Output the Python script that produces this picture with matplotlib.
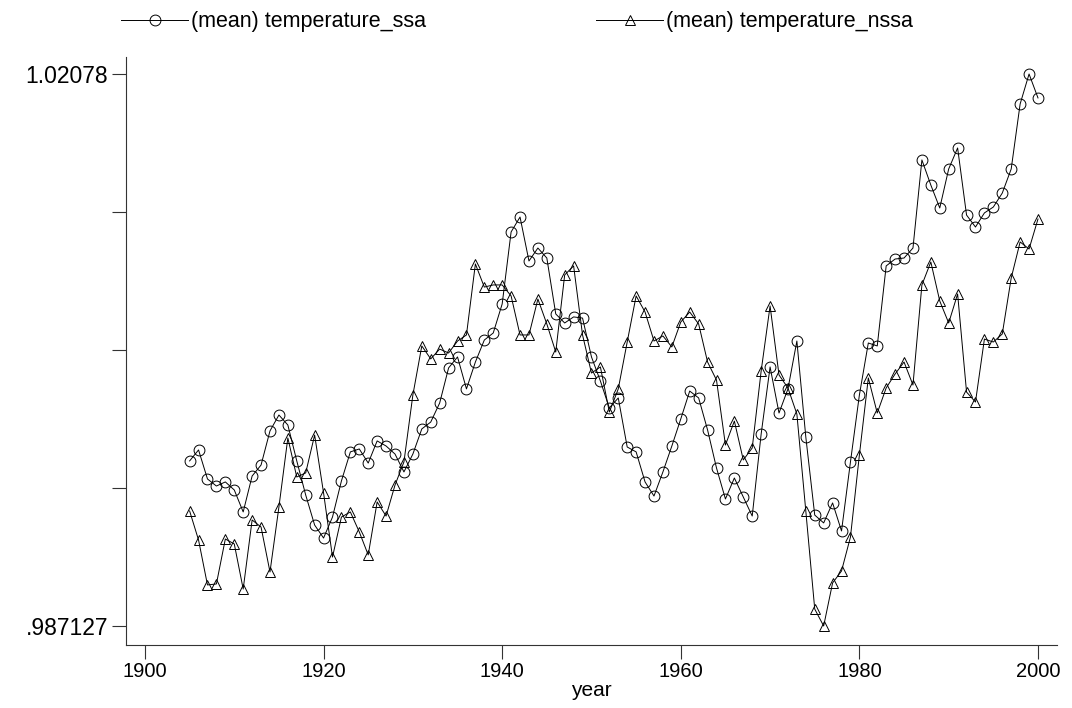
#!/usr/bin/env python3
"""
Mean temperature by year, ssa vs nssa, drawn in a Stata-like mono style.
"""

import matplotlib
matplotlib.use("Agg")
import matplotlib.pyplot as plt

# Data (1905-2000)
YEARS = list(range(1905, 2001))

TEMP_SSA = [
    0.99719, 0.99786, 0.99609, 0.99566, 0.99591, 0.99542, 0.99408, 0.99627, 0.99694, 0.99902,
    0.99999, 0.99938, 0.99719, 0.99511, 0.99328, 0.99249, 0.99377, 0.99597, 0.99774, 0.99792,
    0.99706, 0.99841, 0.99810, 0.99761, 0.99652, 0.99761, 0.99914, 0.99956, 1.00072, 1.00286,
    1.00353, 1.00158, 1.00322, 1.00456, 1.00499, 1.00676, 1.01115, 1.01206, 1.00938, 1.01017,
    1.00956, 1.00615, 1.00560, 1.00597, 1.00590, 1.00353, 1.00206, 1.00042, 1.00103, 0.99804,
    0.99774, 0.99591, 0.99505, 0.99652, 0.99810, 0.99975, 1.00145, 1.00103, 0.99908, 0.99676,
    0.99487, 0.99615, 0.99499, 0.99383, 0.99883, 1.00292, 1.00011, 1.00158, 1.00450, 0.99865,
    0.99389, 0.99341, 0.99463, 0.99292, 0.99713, 1.00121, 1.00438, 1.00420, 1.00908, 1.00950,
    1.00956, 1.01017, 1.01554, 1.01401, 1.01261, 1.01499, 1.01627, 1.01218, 1.01145, 1.01231,
    1.01267, 1.01352, 1.01499, 1.01895, 1.02078, 1.01932,
]

TEMP_NSSA = [
    0.99414, 0.99237, 0.98963, 0.98969, 0.99243, 0.99213, 0.98938, 0.99359, 0.99316, 0.99042,
    0.99438, 0.99859, 0.99621, 0.99646, 0.99877, 0.99524, 0.99133, 0.99377, 0.99408, 0.99286,
    0.99146, 0.99469, 0.99383, 0.99572, 0.99713, 1.00121, 1.00420, 1.00341, 1.00401, 1.00377,
    1.00450, 1.00487, 1.00920, 1.00779, 1.00792, 1.00792, 1.00725, 1.00487, 1.00487, 1.00706,
    1.00554, 1.00383, 1.00853, 1.00908, 1.00487, 1.00255, 1.00292, 1.00017, 1.00158, 1.00444,
    1.00725, 1.00627, 1.00450, 1.00481, 1.00414, 1.00566, 1.00627, 1.00554, 1.00322, 1.00212,
    0.99816, 0.99962, 0.99725, 0.99798, 1.00267, 1.00664, 1.00243, 1.00164, 1.00005, 0.99414,
    0.98816, 0.987127, 0.98975, 0.99048, 0.99255, 0.99755, 1.00225, 1.00011, 1.00164, 1.00249,
    1.00322, 1.00182, 1.00792, 1.00932, 1.00694, 1.00560, 1.00737, 1.00139, 1.00078, 1.00462,
    1.00444, 1.00493, 1.00834, 1.01054, 1.01011, 1.01194,
]

Y_MIN = 0.987127
Y_MAX = 1.02078
X_TICKS = [1900, 1920, 1940, 1960, 1980, 2000]

# Appearance
XTICK_SIZE = 14.5
YTICK_SIZE = 16.5
LEGEND_SIZE = 15.5
LABEL_SIZE = 15
LINE_WIDTH = 0.7
MARKER_SIZE = 7.8
MARKER_EDGE = 0.7


def main():
    plt.rcParams["font.family"] = ["Liberation Sans", "DejaVu Sans"]

    fig = plt.figure(figsize=(10.72, 7.08), dpi=100)
    ax = fig.add_axes([0.1175, 0.089, 0.8685, 0.8305])

    ax.plot(YEARS, TEMP_SSA, color="black", linewidth=LINE_WIDTH, marker="o",
            markersize=MARKER_SIZE, markerfacecolor="none", markeredgecolor="black",
            markeredgewidth=MARKER_EDGE, label="(mean) temperature_ssa")
    ax.plot(YEARS, TEMP_NSSA, color="black", linewidth=LINE_WIDTH, marker="^",
            markersize=MARKER_SIZE, markerfacecolor="none", markeredgecolor="black",
            markeredgewidth=MARKER_EDGE, label="(mean) temperature_nssa")

    # Stata-style axes: only left and bottom, ends labelled on y
    pad = 19 / 8.93
    ax.set_xlim(1900 - pad, 2000 + pad)
    ystep = (Y_MAX - Y_MIN) / 552
    ax.set_ylim(Y_MIN - 19 * ystep, Y_MAX + 17 * ystep)

    yticks = [Y_MIN + i * (Y_MAX - Y_MIN) / 4 for i in range(5)]
    ax.set_yticks(yticks)
    ax.set_yticklabels([".987127", "", "", "", "1.02078"])
    ax.set_xticks(X_TICKS)
    ax.set_xticklabels([str(x) for x in X_TICKS])

    for side in ("top", "right"):
        ax.spines[side].set_visible(False)
    for side in ("left", "bottom"):
        ax.spines[side].set_linewidth(0.8)
        ax.spines[side].set_color("#333333")
    ax.tick_params(axis="both", length=10, width=0.8, color="#333333", pad=3)
    ax.tick_params(axis="x", labelsize=XTICK_SIZE, pad=2)
    ax.tick_params(axis="y", labelsize=YTICK_SIZE)

    ax.set_xlabel("year", fontsize=LABEL_SIZE, labelpad=0)

    fig.legend(loc="center left", bbox_to_anchor=(0.113, 0.969), ncol=2,
               frameon=False, handlelength=3.1, handletextpad=0.15,
               columnspacing=7.9, numpoints=1, fontsize=LEGEND_SIZE,
               borderaxespad=0, borderpad=0)

    fig.savefig("out.png", dpi=100)


if __name__ == "__main__":
    main()
